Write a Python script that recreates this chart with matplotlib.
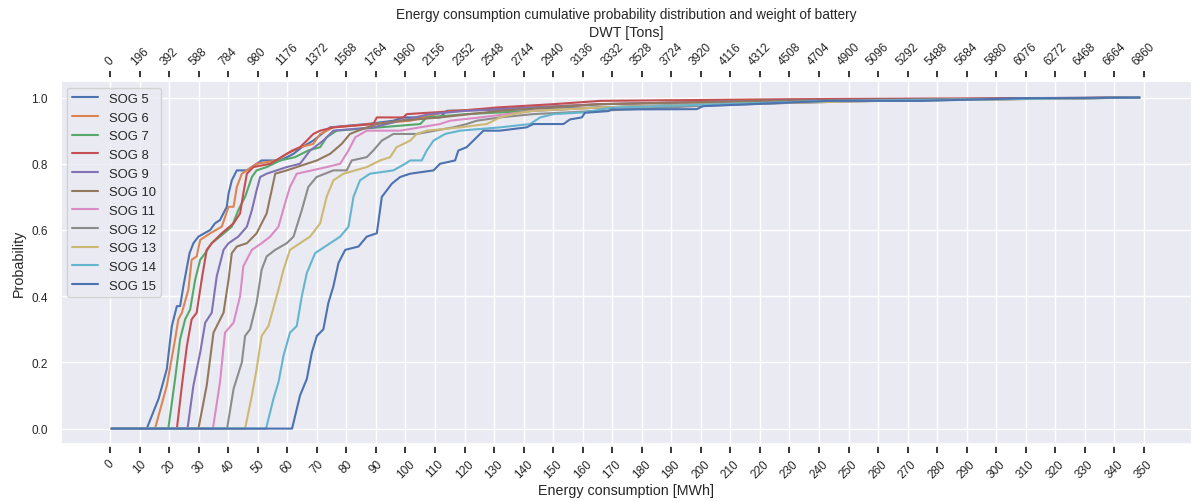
import numpy as np
import matplotlib.pyplot as plt
import seaborn as sns

sns.set_theme(style="darkgrid")
plt.rcParams['font.family'] = ['Liberation Sans', 'DejaVu Sans']

# battery weight per unit of stored energy
dwt_per_mwh = 19.6

sog_names = ["SOG 5", "SOG 6", "SOG 7", "SOG 8", "SOG 9", "SOG 10",
             "SOG 11", "SOG 12", "SOG 13", "SOG 14", "SOG 15"]

# energy [MWh] / cumulative probability pairs for each speed over ground
sog5_e = [0.5, 12.4, 16.4, 19.2, 20.9, 22.6, 23.7, 24.8, 26.9, 28.2, 29.9, 33.9, 35.5, 37.2, 39.5, 40.1, 41.2, 42.9,
          46.3, 51.3, 57.6, 62.1, 64.9, 68.8, 74.5, 86.9, 95.9, 99.3, 111.7, 114.0, 166, 200, 250, 300, 348.5]
sog5_p = [0, 0, 0.09, 0.18, 0.31, 0.37, 0.37, 0.43, 0.53, 0.56, 0.58, 0.60, 0.62, 0.63, 0.67, 0.71, 0.75, 0.78,
          0.78, 0.81, 0.81, 0.83, 0.85, 0.87, 0.91, 0.92, 0.93, 0.94, 0.94, 0.96, 0.97, 0.98, 0.99, 0.995, 1.0]

sog6_e = [0.5, 15.2, 19.2, 22.0, 23.1, 24.3, 26.5, 27.6, 29.3, 30.5, 33.9, 37.8, 40.1, 41.8, 42.9, 44.6, 46.3, 49.6,
          56.4, 61.5, 64.3, 68.8, 71.1, 75.6, 101.6, 115.1, 166, 220, 280, 348.5]
sog6_p = [0, 0, 0.13, 0.27, 0.33, 0.35, 0.42, 0.51, 0.52, 0.57, 0.59, 0.61, 0.67, 0.67, 0.73, 0.77, 0.78, 0.80,
          0.81, 0.84, 0.85, 0.86, 0.89, 0.91, 0.93, 0.96, 0.98, 0.99, 0.995, 1.0]

sog7_e = [0.5, 19.7, 22.0, 23.7, 25.4, 27.1, 28.8, 30.5, 32.2, 34.4, 37.2, 41.2, 43.4, 45.7, 48.0, 49.6, 53.0, 57.6,
          62.6, 67.1, 71.1, 73.3, 76.7, 91.4, 105.0, 107.2, 120.7, 166, 210, 260, 348.5]
sog7_p = [0, 0, 0.15, 0.27, 0.33, 0.36, 0.45, 0.51, 0.53, 0.56, 0.58, 0.61, 0.66, 0.70, 0.76, 0.78, 0.79, 0.81,
          0.82, 0.84, 0.85, 0.88, 0.90, 0.91, 0.92, 0.94, 0.95, 0.97, 0.98, 0.99, 1.0]

sog8_e = [0.5, 22.6, 24.3, 26.0, 27.6, 29.3, 31.0, 32.7, 34.4, 37.8, 41.8, 44.0, 45.1, 46.3, 48.5, 54.2, 59.8, 62.1,
          64.3, 66.6, 68.8, 71.1, 75.6, 89.1, 90.3, 99.3, 100.4, 118.5, 130.9, 150.1, 166, 230, 348.5]
sog8_p = [0, 0, 0.13, 0.25, 0.33, 0.35, 0.45, 0.54, 0.56, 0.59, 0.62, 0.65, 0.71, 0.77, 0.79, 0.80, 0.83, 0.84,
          0.85, 0.87, 0.89, 0.90, 0.91, 0.92, 0.94, 0.94, 0.95, 0.96, 0.97, 0.98, 0.99, 0.995, 1.0]

sog9_e = [0.5, 26.2, 28.2, 30.5, 32.2, 34.4, 36.1, 38.4, 40.1, 43.4, 46.3, 48.0, 49.6, 50.8, 53.0, 59.8, 64.3, 67.7,
          72.2, 75.6, 89.1, 98.2, 108.3, 120.7, 166, 220, 348.5]
sog9_p = [0, 0, 0.13, 0.23, 0.32, 0.35, 0.46, 0.54, 0.56, 0.58, 0.61, 0.66, 0.72, 0.76, 0.77, 0.79, 0.80, 0.84,
          0.87, 0.90, 0.91, 0.93, 0.95, 0.96, 0.98, 0.99, 1.0]

sog10_e = [0.5, 29.9, 32.7, 35.0, 36.7, 38.4, 40.1, 41.2, 42.9, 46.3, 49.6, 53.0, 54.7, 55.9, 59.8, 66.6, 70.0, 74.5,
           78.4, 81.2, 84.0, 90.3, 98.2, 111.7, 132.0, 166, 220, 348.5]
sog10_p = [0, 0, 0.13, 0.29, 0.32, 0.35, 0.45, 0.53, 0.55, 0.56, 0.59, 0.65, 0.72, 0.77, 0.78, 0.80, 0.81, 0.83,
           0.86, 0.89, 0.90, 0.92, 0.93, 0.94, 0.96, 0.98, 0.99, 1.0]

sog11_e = [0.5, 34.8, 37.2, 38.9, 41.8, 44.0, 45.1, 48.0, 51.3, 54.2, 57.0, 59.2, 60.9, 63.2, 68.3, 73.3, 77.9, 80.7,
           83.0, 86.9, 98.2, 111.7, 115.1, 125.3, 143.3, 166, 210, 260, 348.5]
sog11_p = [0, 0, 0.14, 0.29, 0.32, 0.40, 0.49, 0.54, 0.56, 0.58, 0.61, 0.68, 0.73, 0.77, 0.78, 0.79, 0.80, 0.84,
           0.88, 0.90, 0.90, 0.92, 0.93, 0.94, 0.96, 0.97, 0.98, 0.99, 1.0]

sog12_e = [0.5, 39.6, 41.8, 44.6, 45.7, 47.4, 49.6, 51.3, 53.0, 55.9, 59.8, 62.1, 64.9, 67.1, 69.9, 75.6, 80.1, 81.8,
           86.9, 89.1, 92.0, 95.9, 103.8, 116.2, 120.7, 124.1, 132.0, 143.3, 166, 200, 250, 348.5]
sog12_p = [0, 0, 0.12, 0.20, 0.28, 0.30, 0.38, 0.48, 0.52, 0.54, 0.56, 0.58, 0.66, 0.73, 0.76, 0.78, 0.78, 0.81,
           0.82, 0.84, 0.87, 0.89, 0.89, 0.91, 0.92, 0.93, 0.94, 0.95, 0.96, 0.975, 0.99, 1.0]

sog13_e = [0.5, 45.7, 48.0, 49.6, 51.3, 53.6, 57.0, 58.7, 60.9, 64.3, 67.7, 71.1, 73.3, 75.6, 79.0, 86.9, 91.4, 94.8,
           97.0, 101.6, 103.8, 107.2, 118.5, 127.5, 132.0, 136.5, 143.3, 166, 205, 260, 348.5]
sog13_p = [0, 0, 0.10, 0.18, 0.28, 0.31, 0.42, 0.48, 0.54, 0.56, 0.58, 0.62, 0.70, 0.75, 0.77, 0.79, 0.81, 0.82,
           0.85, 0.87, 0.89, 0.90, 0.91, 0.92, 0.94, 0.95, 0.96, 0.97, 0.98, 0.99, 1.0]

sog14_e = [0.5, 52.8, 55.3, 57.0, 58.7, 60.9, 63.2, 64.9, 66.6, 69.4, 74.5, 77.9, 80.7, 82.4, 84.6, 88.0, 95.9, 99.9,
           101.6, 105.5, 107.2, 109.5, 113.4, 118.5, 132.0, 142.2, 145.6, 150.1, 160.2, 169.3, 203.0, 243.7, 300,
           348.5]
sog14_p = [0, 0, 0.09, 0.14, 0.22, 0.29, 0.31, 0.40, 0.47, 0.53, 0.56, 0.58, 0.61, 0.70, 0.75, 0.77, 0.78, 0.80,
           0.81, 0.81, 0.84, 0.87, 0.89, 0.90, 0.91, 0.92, 0.94, 0.95, 0.955, 0.969, 0.979, 0.99, 0.995, 1.0]

sog15_e = [0.5, 61.6, 64.3, 66.6, 68.3, 70.0, 72.2, 73.9, 75.6, 77.3, 79.6, 84.1, 86.9, 90.3, 92.0, 95.4, 98.2, 101.6,
           109.5, 111.7, 116.8, 117.9, 120.7, 126.4, 132.0, 141.0, 143.3, 153.5, 155.7, 159.7, 160.8, 168.6, 169.8,
           198.6, 200.8, 243.7, 275, 309, 348.5]
sog15_p = [0, 0, 0.10, 0.15, 0.23, 0.28, 0.30, 0.38, 0.43, 0.50, 0.54, 0.55, 0.58, 0.59, 0.70, 0.74, 0.76, 0.77,
           0.78, 0.80, 0.81, 0.84, 0.85, 0.90, 0.90, 0.91, 0.92, 0.92, 0.934, 0.94, 0.954, 0.959, 0.964,
           0.965, 0.974, 0.99, 0.99, 0.998, 1.0]

energy = [sog5_e, sog6_e, sog7_e, sog8_e, sog9_e, sog10_e, sog11_e, sog12_e, sog13_e, sog14_e, sog15_e]
prob = [sog5_p, sog6_p, sog7_p, sog8_p, sog9_p, sog10_p, sog11_p, sog12_p, sog13_p, sog14_p, sog15_p]

xticks = np.arange(0, 351, 10)

fig = plt.figure(figsize=(11.92, 5.02), dpi=100)
ax = fig.add_axes([60.5 / 1192, 57.5 / 502, 1 - 60.5 / 1192, 362.5 / 502])

for e, p, name in zip(energy, prob, sog_names):
    ax.plot(e, p, label=name, linewidth=1.5)

ax.set_xlim(-16.8, 366.3)
ax.set_ylim(-0.045, 1.05)
ax.set_xticks(xticks)
ax.set_xticklabels([str(t) for t in xticks])
ax.set_yticks([0, 0.2, 0.4, 0.6, 0.8, 1.0])
ax.set_xlabel("Energy consumption [MWh]", fontsize=10.3, labelpad=2.5)
ax.set_ylabel("Probability", fontsize=10.3)
ax.tick_params(axis='x', bottom=True, length=5, width=1.3, color='.15', labelsize=8.5, pad=3,
               labelrotation=45)
ax.tick_params(axis='y', left=False, length=0, labelsize=8.5, pad=9)
ax.spines['bottom'].set_position(('outward', 2))
ax.legend(loc='upper left', fontsize=9.4)

# second x axis showing the battery weight for the same energy
ax2 = ax.twiny()
ax2.set_xlim(ax.get_xlim())
ax2.set_xticks(xticks)
ax2.set_xticklabels([str(int(round(t * dwt_per_mwh))) for t in xticks])
ax2.grid(False)
ax2.spines['top'].set_position(('outward', 2))
ax2.tick_params(axis='x', top=True, length=5, width=1.3, color='.15', labelsize=8.5, pad=3,
                labelrotation=45)
ax2.set_xlabel("DWT [Tons]", fontsize=10.3, labelpad=3)
ax2.set_title("Energy consumption cumulative probability distribution and weight of battery",
              fontsize=9.8, pad=4.5)

fig.savefig("out.png", dpi=100)
